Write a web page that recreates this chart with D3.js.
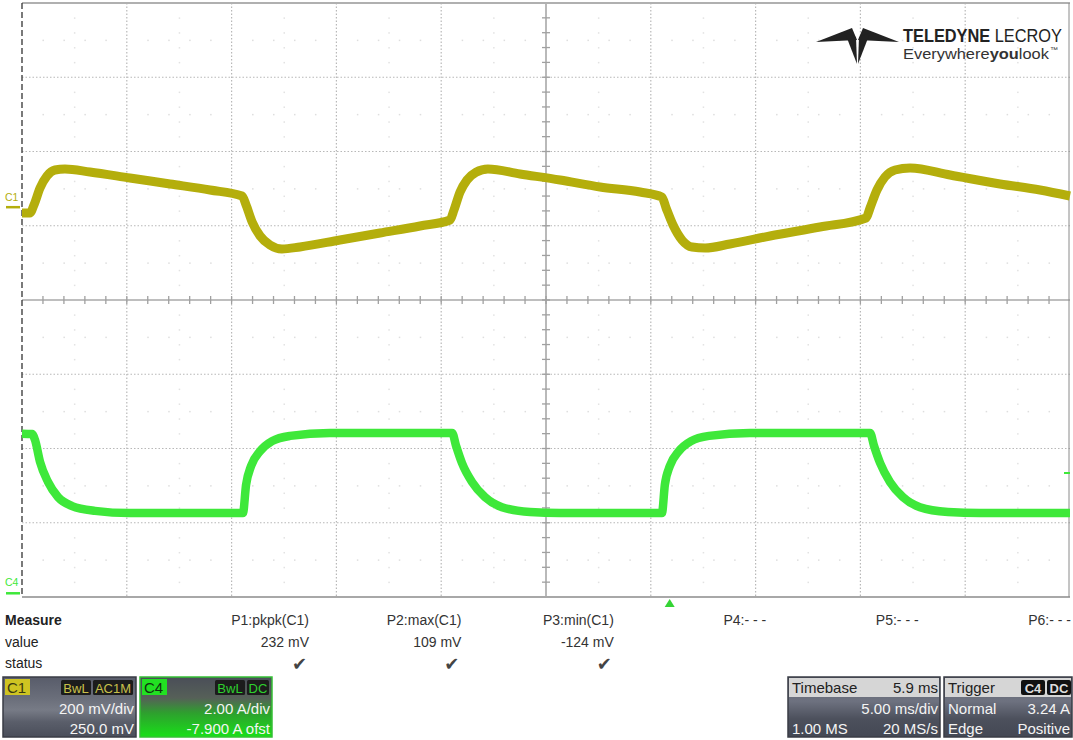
<!DOCTYPE html>
<html><head><meta charset="utf-8">
<script src="https://cdn.jsdelivr.net/npm/d3@7"></script>
<style>
html,body{margin:0;padding:0;background:#fff;}
svg{display:block;font-family:"Liberation Sans",Arial,sans-serif;}
</style></head>
<body><div id="chart"></div>
<script>
// ---- Data (time in ms relative to trigger; C1 in mV; C4 in A) ----
const c1Time = [-30.90,-30.52,-30.33,-30.04,-29.71,-29.33,-28.85,-27.66,-25.75,-23.84,-21.93,-20.40,-20.21,-19.92,-19.54,-19.07,-18.50,-17.64,-15.73,-13.82,-11.91,-10.48,-10.29,-10.00,-9.67,-9.24,-8.67,-7.14,-5.23,-3.32,-1.41,-0.37,-0.17,0.16,0.59,1.07,1.69,2.88,4.79,7.17,9.37,9.56,9.89,10.27,10.75,11.47,13.38,15.76,17.67,19.10];
const c1Volt = [-15.7,-15.7,5.9,51.7,84.0,100.2,102.9,94.8,78.6,62.5,46.3,30.1,5.9,-39.9,-77.6,-101.9,-112.6,-107.2,-88.4,-69.5,-50.7,-34.5,-7.6,40.9,73.2,94.2,102.9,89.4,73.2,54.4,40.9,27.4,-2.2,-48.0,-88.4,-107.2,-109.9,-99.2,-77.6,-53.4,-29.1,-2.2,46.3,81.3,100.2,105.6,86.7,62.5,46.3,30.1];
const c4Time = [-30.90,-30.42,-30.28,-30.04,-29.66,-29.18,-28.51,-27.42,-25.75,-20.36,-20.21,-19.97,-19.54,-18.97,-18.11,-16.21,-10.38,-10.19,-9.91,-9.43,-8.81,-8.00,-6.66,-5.23,-0.37,-0.23,0.01,0.44,1.02,1.88,3.83,9.56,9.75,10.04,10.51,11.13,11.94,13.28,14.81,19.10];
const c4Amp  = [4.30,4.29,4.13,3.54,3.00,2.59,2.35,2.22,2.16,2.16,2.92,3.43,3.83,4.10,4.24,4.32,4.32,3.97,3.51,3.00,2.59,2.32,2.19,2.16,2.16,2.92,3.43,3.83,4.10,4.24,4.32,4.32,3.97,3.51,3.00,2.59,2.32,2.19,2.16,2.16];

const measNames  = ["P1:pkpk(C1)","P2:max(C1)","P3:min(C1)","P4:- - -","P5:- - -","P6:- - -"];
const measValues = ["232 mV","109 mV","-124 mV","","",""];
const measStatus = [true,true,true,false,false,false];
const c1Info = ["C1","BwL","AC1M","200 mV/div","250.0 mV"];
const c4Info = ["C4","BwL","DC","2.00 A/div","-7.900 A ofst"];
const timebaseInfo = ["Timebase","5.9 ms","5.00 ms/div","1.00 MS","20 MS/s"];
const triggerInfo = ["Trigger","C4","DC","Normal","3.24 A","Edge","Positive"];
const timeDomain = [-30.9, 19.1];   // 10 div x 5 ms, trigger delay 5.9 ms
const c1Domain = [-1050, 550];      // 8 div x 200 mV, offset 250 mV
const c4Domain = [-0.1, 15.9];      // 8 div x 2 A, offset -7.9 A
const trigLevel = 3.24;

// ---- Layout ----
const W = 1073, H = 740;
const L = 22, R = 1070, T = 3, B = 597;
const svg = d3.select("#chart").append("svg").attr("width", W).attr("height", H);
const x = d3.scaleLinear().domain(timeDomain).range([L, R]);
const y1 = d3.scaleLinear().domain(c1Domain).range([B, T]);
const y4 = d3.scaleLinear().domain(c4Domain).range([B, T]);
const gx = d3.scaleLinear().domain([0, 10]).range([L, R]);
const gy = d3.scaleLinear().domain([0, 8]).range([T, B]);

const grid = svg.append("g");
// half-division faint dots
for (let j = 0; j < 8; j++) {
  const yy = gy(j + 0.5);
  for (let k = 1; k < 50; k++) {
    if (k % 5 === 0) continue;
    grid.append("rect").attr("x", gx(k / 5) - 0.5).attr("y", yy - 0.5).attr("width", 1.5).attr("height", 1.5).attr("fill", "#dedede");
  }
}
for (let i = 0; i < 10; i++) {
  const xx = gx(i + 0.5);
  for (let k = 1; k < 40; k++) {
    if (k % 5 === 0) continue;
    grid.append("rect").attr("x", xx - 0.5).attr("y", gy(k / 5) - 0.5).attr("width", 1.5).attr("height", 1.5).attr("fill", "#e2e2e2");
  }
}
// dotted grid lines
d3.range(1, 10).filter(i => i !== 5).forEach(i => {
  grid.append("line").attr("x1", gx(i)).attr("x2", gx(i)).attr("y1", T).attr("y2", B)
    .attr("stroke", "#b8b8b8").attr("stroke-width", 1.2).attr("stroke-dasharray", "1.5,2");
});
d3.range(1, 8).filter(j => j !== 4).forEach(j => {
  grid.append("line").attr("y1", gy(j)).attr("y2", gy(j)).attr("x1", L).attr("x2", R)
    .attr("stroke", "#b8b8b8").attr("stroke-width", 1.2).attr("stroke-dasharray", "1.5,2");
});
// center axes with minor ticks
grid.append("line").attr("x1", gx(5)).attr("x2", gx(5)).attr("y1", T).attr("y2", B).attr("stroke", "#a8a8a8").attr("stroke-width", 1.6);
grid.append("line").attr("y1", gy(4)).attr("y2", gy(4)).attr("x1", L).attr("x2", R).attr("stroke", "#a8a8a8").attr("stroke-width", 1.6);
for (let k = 1; k < 50; k++) {
  grid.append("line").attr("x1", gx(k / 5)).attr("x2", gx(k / 5)).attr("y1", gy(4) - 4).attr("y2", gy(4) + 4).attr("stroke", "#a0a0a0").attr("stroke-width", 1.3);
}
for (let k = 1; k < 40; k++) {
  grid.append("line").attr("y1", gy(k / 5)).attr("y2", gy(k / 5)).attr("x1", gx(5) - 4).attr("x2", gx(5) + 4).attr("stroke", "#a0a0a0").attr("stroke-width", 1.3);
}
// borders
svg.append("line").attr("x1", L).attr("x2", R).attr("y1", T).attr("y2", T).attr("stroke", "#b0b0b0").attr("stroke-width", 2);
svg.append("line").attr("x1", L).attr("x2", R).attr("y1", B).attr("y2", B).attr("stroke", "#a8a8a8").attr("stroke-width", 2);
svg.append("line").attr("x1", R - 1).attr("x2", R - 1).attr("y1", T).attr("y2", B).attr("stroke", "#8a8a8a").attr("stroke-width", 1);
svg.append("line").attr("x1", L).attr("x2", L).attr("y1", T).attr("y2", B).attr("stroke", "#333").attr("stroke-width", 1.3).attr("stroke-dasharray", "6,3");

// ---- traces ----
const c1Color = "#b4ae0c", c4Color = "#3ee83a";
const line1 = d3.line().x((d, i) => x(c1Time[i])).y(d => y1(d)).curve(d3.curveMonotoneX);
const line4 = d3.line().x((d, i) => x(c4Time[i])).y(d => y4(d)).curve(d3.curveMonotoneX);
svg.append("path").attr("d", line1(c1Volt)).attr("fill", "none").attr("stroke", c1Color).attr("stroke-width", 9).attr("stroke-linejoin", "round");
svg.append("path").attr("d", line4(c4Amp)).attr("fill", "none").attr("stroke", c4Color).attr("stroke-width", 8.5).attr("stroke-linejoin", "round");

// channel ground markers
svg.append("text").attr("x", 5).attr("y", y1(0) - 6).attr("font-size", 10.5).attr("fill", c1Color).text("C1");
svg.append("line").attr("x1", 6).attr("x2", 20).attr("y1", y1(0)).attr("y2", y1(0)).attr("stroke", c1Color).attr("stroke-width", 2.5);
svg.append("text").attr("x", 5).attr("y", y4(0) - 7).attr("font-size", 10.5).attr("fill", c4Color).text("C4");
svg.append("line").attr("x1", 6).attr("x2", 20).attr("y1", y4(0)).attr("y2", y4(0)).attr("stroke", c4Color).attr("stroke-width", 2.5);
// trigger level marker right edge
svg.append("line").attr("x1", R - 6).attr("x2", R).attr("y1", y4(trigLevel)).attr("y2", y4(trigLevel)).attr("stroke", c4Color).attr("stroke-width", 2);
// trigger time marker
const tx = x(0);
svg.append("path").attr("d", `M${tx - 5},${B + 10} L${tx + 5},${B + 10} L${tx},${B + 2} Z`).attr("fill", "#35d435");

// ---- logo ----
const logo = svg.append("g").attr("fill", "#222");
logo.append("path").attr("d", "M816,42 L852,28 L857,40 Z");
logo.append("path").attr("d", "M899,42 L863,28 L858,40 Z");
logo.append("path").attr("d", "M845,33 L857,64 L856,37 Z");
logo.append("path").attr("d", "M870,33 L858,64 L859,37 Z");
// text line laid out from parts, then squeezed horizontally to the target width
function logoLine(x0, y0, size, parts, target, fill) {
  const g = svg.append("g");
  let cx = 0;
  parts.forEach(p => {
    const t = g.append("text").attr("x", cx).attr("y", 0).attr("font-size", p.size || size)
      .attr("font-weight", p.bold ? "bold" : "normal").attr("fill", fill).text(p.s);
    if (p.dy) t.attr("y", p.dy);
    cx += t.node().getComputedTextLength() + (p.gap || 0);
  });
  const s = target / cx;
  g.attr("transform", `translate(${x0},${y0}) scale(${s},1)`);
}
logoLine(903, 42, 19, [{s: "TELEDYNE", bold: true, gap: 5}, {s: "LECROY"}], 159, "#222");
logoLine(903, 59, 14.5, [{s: "Everywhere"}, {s: "you", bold: true}, {s: "look", gap: 1}, {s: "™", size: 7, dy: -7}], 155, "#333");

// ---- measure table ----
const mt = svg.append("g").attr("font-size", 14).attr("fill", "#222");
mt.append("text").attr("x", 5).attr("y", 625).attr("font-weight", "bold").text("Measure");
mt.append("text").attr("x", 5).attr("y", 647).text("value");
mt.append("text").attr("x", 5).attr("y", 668).text("status");
const colX = d3.scaleLinear().domain([0, 5]).range([309, 1071]);
measNames.forEach((n, i) => {
  mt.append("text").attr("x", colX(i)).attr("y", 625).attr("text-anchor", "end").attr("fill", "#333").text(n);
  if (measValues[i]) mt.append("text").attr("x", colX(i)).attr("y", 647).attr("text-anchor", "end").attr("fill", "#333").text(measValues[i]);
  if (measStatus[i]) mt.append("text").attr("x", colX(i) - 2).attr("y", 670).attr("text-anchor", "end").attr("font-family", "DejaVu Sans").attr("font-size", 18).attr("fill", "#444").text("✔");
});

// ---- info boxes ----
const defs = svg.append("defs");
function grad(id, stops) {
  const g = defs.append("linearGradient").attr("id", id).attr("x1", 0).attr("x2", 0).attr("y1", 0).attr("y2", 1);
  stops.forEach(s => g.append("stop").attr("offset", s[0]).attr("stop-color", s[1]));
}
grad("gGray", [[0, "#585c6a"], [0.35, "#6a6e7a"], [0.55, "#777b86"], [0.75, "#5a5e6a"], [1, "#4a4e5a"]]);
grad("gGreen", [[0, "#4a4e58"], [0.35, "#566058"], [0.6, "#2ea02e"], [1, "#18e018"]]);
grad("gDark", [[0, "#5c606c"], [0.4, "#6e7280"], [0.7, "#4c505c"], [1, "#444854"]]);

function chanBox(x0, w, info, fillId, labelBg, labelFg, tagFg, border) {
  const g = svg.append("g");
  g.append("rect").attr("x", x0).attr("y", 677).attr("width", w).attr("height", 60).attr("fill", `url(#${fillId})`).attr("stroke", border).attr("stroke-width", 1.5);
  g.append("rect").attr("x", x0 + 2).attr("y", 679).attr("width", 25).attr("height", 16).attr("fill", labelBg);
  g.append("text").attr("x", x0 + 4).attr("y", 693).attr("font-size", 15).attr("fill", labelFg).text(info[0]);
  const tagW2 = info[2].length * 9 + 4, tagW1 = 30;
  const r2 = x0 + w - 3;
  g.append("rect").attr("x", r2 - tagW2).attr("y", 680).attr("width", tagW2).attr("height", 15).attr("fill", "#1c1c1c").attr("rx", 1.5);
  g.append("text").attr("x", r2 - tagW2 / 2).attr("y", 692.5).attr("text-anchor", "middle").attr("font-size", 13).attr("fill", tagFg).text(info[2]);
  const r1 = r2 - tagW2 - 2;
  g.append("rect").attr("x", r1 - tagW1).attr("y", 680).attr("width", tagW1).attr("height", 15).attr("fill", "#1c1c1c").attr("rx", 1.5);
  g.append("text").attr("x", r1 - tagW1 / 2).attr("y", 692.5).attr("text-anchor", "middle").attr("font-size", 13).attr("fill", tagFg).text(info[1]);
  g.append("text").attr("x", x0 + w - 2).attr("y", 714).attr("text-anchor", "end").attr("font-size", 15).attr("fill", "#f4f4f4").text(info[3]);
  g.append("text").attr("x", x0 + w - 2).attr("y", 734).attr("text-anchor", "end").attr("font-size", 15).attr("fill", "#f4f4f4").text(info[4]);
}
chanBox(3, 133, c1Info, "gGray", "#cfc422", "#3a3a10", "#c9c04a", "#3a3d46");
chanBox(140, 132, c4Info, "gGreen", "#22e022", "#103010", "#2ed02e", "#35c035");

// timebase
const tb = svg.append("g");
tb.append("rect").attr("x", 788).attr("y", 677).attr("width", 152).attr("height", 60).attr("fill", "url(#gDark)").attr("stroke", "#3a3d46").attr("stroke-width", 1.5);
tb.append("rect").attr("x", 789).attr("y", 678).attr("width", 150).attr("height", 19).attr("fill", "#d6d6d6");
tb.append("text").attr("x", 792).attr("y", 693).attr("font-size", 15).attr("fill", "#222").text(timebaseInfo[0]);
tb.append("text").attr("x", 938).attr("y", 693).attr("text-anchor", "end").attr("font-size", 15).attr("fill", "#222").text(timebaseInfo[1]);
tb.append("text").attr("x", 938).attr("y", 714).attr("text-anchor", "end").attr("font-size", 15).attr("fill", "#f4f4f4").text(timebaseInfo[2]);
tb.append("text").attr("x", 792).attr("y", 734).attr("font-size", 15).attr("fill", "#f4f4f4").text(timebaseInfo[3]);
tb.append("text").attr("x", 938).attr("y", 734).attr("text-anchor", "end").attr("font-size", 15).attr("fill", "#f4f4f4").text(timebaseInfo[4]);
// trigger
const tr = svg.append("g");
tr.append("rect").attr("x", 944).attr("y", 677).attr("width", 128).attr("height", 60).attr("fill", "url(#gDark)").attr("stroke", "#3a3d46").attr("stroke-width", 1.5);
tr.append("rect").attr("x", 945).attr("y", 678).attr("width", 126).attr("height", 19).attr("fill", "#d6d6d6");
tr.append("text").attr("x", 948).attr("y", 693).attr("font-size", 15).attr("fill", "#222").text(triggerInfo[0]);
tr.append("rect").attr("x", 1021).attr("y", 680).attr("width", 24).attr("height", 15).attr("rx", 2).attr("fill", "#111");
tr.append("text").attr("x", 1033).attr("y", 692.5).attr("text-anchor", "middle").attr("font-size", 13).attr("font-weight", "bold").attr("fill", "#ddd").text(triggerInfo[1]);
tr.append("rect").attr("x", 1047).attr("y", 680).attr("width", 24).attr("height", 15).attr("rx", 2).attr("fill", "#111");
tr.append("text").attr("x", 1059).attr("y", 692.5).attr("text-anchor", "middle").attr("font-size", 13).attr("font-weight", "bold").attr("fill", "#ddd").text(triggerInfo[2]);
tr.append("text").attr("x", 948).attr("y", 714).attr("font-size", 15).attr("fill", "#f4f4f4").text(triggerInfo[3]);
tr.append("text").attr("x", 1070).attr("y", 714).attr("text-anchor", "end").attr("font-size", 15).attr("fill", "#f4f4f4").text(triggerInfo[4]);
tr.append("text").attr("x", 948).attr("y", 734).attr("font-size", 15).attr("fill", "#f4f4f4").text(triggerInfo[5]);
tr.append("text").attr("x", 1070).attr("y", 734).attr("text-anchor", "end").attr("font-size", 15).attr("fill", "#f4f4f4").text(triggerInfo[6]);
</script>
</body></html>
